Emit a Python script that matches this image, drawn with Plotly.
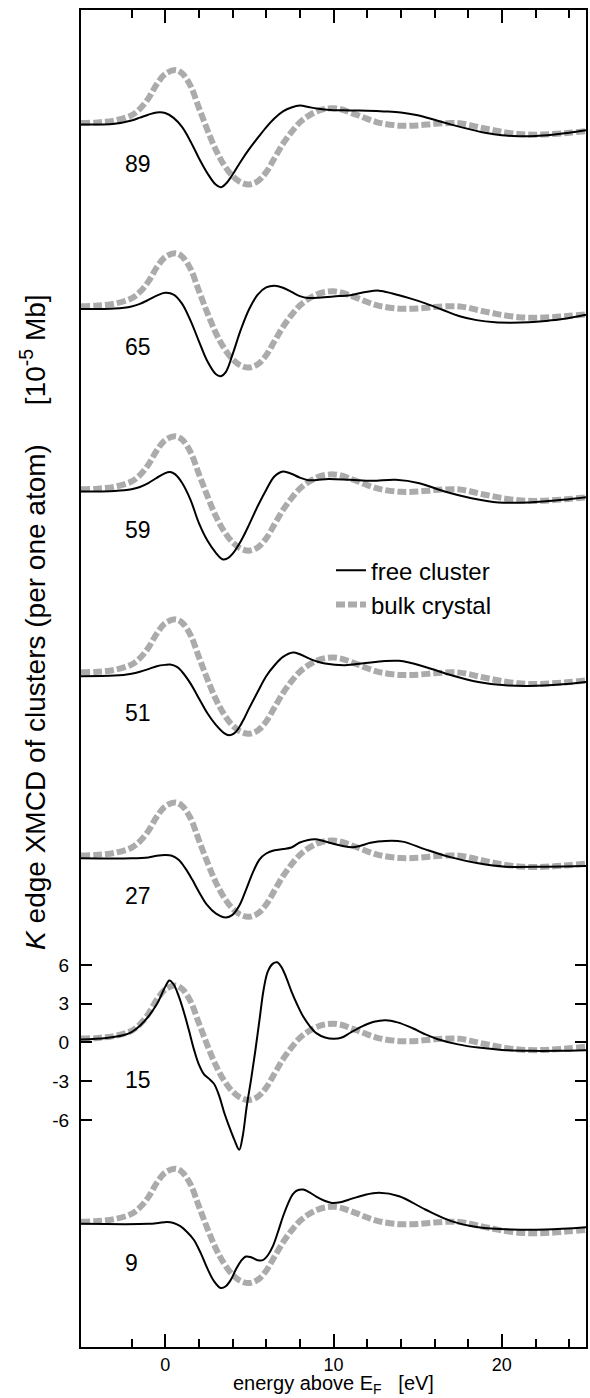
import plotly.graph_objects as go

# Cluster sizes (atoms per cluster), top to bottom
CLUSTERS = ["89", "65", "59", "51", "27", "15", "9"]

# Bulk crystal K-edge XMCD (same reference curve in every panel)
E_BULK = [-5, -4, -3, -2, -1.5, -1, -0.5, 0, 0.6, 1.0, 1.5, 2.0, 2.5, 3.0, 3.5, 4.0,
          4.5, 5.0, 5.5, 6.0, 6.5, 7.0, 7.5, 8.0, 8.5, 9.0, 9.5, 10.0, 10.5, 11.0,
          11.5, 12.0, 12.5, 13.0, 14.0, 15.0, 16.0, 17.0, 17.5, 18.0, 18.5, 19.0,
          19.5, 20.0, 21.0, 22.0, 23.0, 24.0, 25.0]
XMCD_BULK = [0.3, 0.35, 0.5, 0.9, 1.4, 2.2, 3.3, 4.1, 4.4, 4.15, 3.2, 1.5, -0.2, -1.75,
             -2.95, -3.8, -4.3, -4.45, -4.2, -3.5, -2.4, -1.3, -0.4, 0.35, 0.85, 1.2,
             1.4, 1.45, 1.35, 1.12, 0.88, 0.62, 0.4, 0.25, 0.1, 0.12, 0.24, 0.3, 0.28,
             0.18, 0.02, -0.12, -0.25, -0.38, -0.55, -0.6, -0.55, -0.45, -0.33]

# Free cluster K-edge XMCD, per cluster size
E_89 = [-5, -3, -2, -1.5, -1, -0.5, 0, 0.5, 1, 1.5, 2, 2.5, 3, 3.3, 3.6, 4, 4.5, 5,
        5.5, 6, 6.5, 7, 7.5, 8, 8.5, 9, 10, 11, 12, 13, 14, 15, 16, 17, 18, 19, 20,
        21, 22, 23, 24, 25]
XMCD_89 = [0.18, 0.25, 0.5, 0.72, 0.95, 1.12, 1.08, 0.7, 0.0, -1.1, -2.4, -3.56, -4.46,
           -4.67, -4.4, -3.7, -2.65, -1.7, -0.85, -0.03, 0.67, 1.2, 1.5, 1.65, 1.55,
           1.42, 1.3, 1.28, 1.25, 1.2, 1.12, 0.9, 0.55, 0.18, -0.15, -0.45, -0.65,
           -0.72, -0.7, -0.6, -0.45, -0.26]

E_65 = [-5, -3, -2, -1.5, -1, -0.5, 0, 0.5, 1, 1.5, 2, 2.5, 3, 3.3, 3.6, 4, 4.5, 5,
        5.5, 6, 6.5, 7, 7.5, 8, 8.5, 9, 10, 11, 12, 12.7, 13.5, 14.5, 15.5, 16.5,
        17.5, 18.5, 19.6, 20.5, 21.6, 22.6, 23.6, 25]
XMCD_65 = [0.08, 0.12, 0.28, 0.48, 0.78, 1.12, 1.33, 1.2, 0.5, -0.8, -2.4, -3.95,
           -4.95, -5.12, -4.8, -3.45, -1.5, 0.1, 1.2, 1.75, 1.88, 1.72, 1.4, 1.08,
           0.93, 0.95, 1.05, 1.15, 1.42, 1.5, 1.28, 0.92, 0.5, 0.0, -0.48, -0.78,
           -0.95, -0.98, -0.95, -0.85, -0.7, -0.36]

E_59 = [-5, -3, -2, -1.5, -1, -0.5, 0, 0.3, 0.6, 1, 1.5, 2, 2.5, 3, 3.4, 3.7, 4, 4.5,
        5, 5.5, 6, 6.5, 7, 7.5, 8, 8.5, 9, 9.7, 11, 12.3, 13.7, 15.1, 16.6, 18.2,
        19.8, 21.6, 23.6, 25]
XMCD_59 = [0.13, 0.17, 0.3, 0.48, 0.78, 1.18, 1.55, 1.63, 1.45, 0.8, -0.5, -2.3,
           -3.65, -4.6, -5.12, -5.05, -4.7, -3.7, -2.4, -1.0, 0.25, 1.3, 1.68, 1.5,
           1.2, 1.0, 1.02, 1.1, 1.03, 0.95, 1.03, 0.77, 0.13, -0.39, -0.72, -0.72,
           -0.52, -0.31]

E_51 = [-5, -3, -2, -1.5, -1, -0.5, 0, 0.3, 0.7, 1, 1.5, 2, 2.5, 3, 3.5, 3.8, 4.1,
        4.4, 4.7, 5, 5.5, 6, 6.5, 7, 7.6, 8, 8.5, 9, 9.5, 10.7, 11.9, 13.9, 15.45,
        17, 18.6, 20.2, 21.6, 23.6, 25]
XMCD_51 = [0.0, 0.05, 0.2, 0.35, 0.55, 0.78, 0.88, 0.9, 0.72, 0.35, -0.55, -1.7,
           -2.85, -3.75, -4.4, -4.57, -4.42, -3.95, -3.25, -2.45, -1.2, 0.0, 0.85,
           1.5, 1.83, 1.7, 1.4, 1.15, 0.98, 0.85, 1.03, 1.19, 0.72, 0.08, -0.44,
           -0.7, -0.75, -0.62, -0.44]

E_27 = [-5, -2, -1, -0.5, 0, 0.4, 0.8, 1.2, 1.6, 2, 2.5, 3, 3.6, 4, 4.4, 4.8, 5.2,
        5.6, 6, 6.5, 7, 7.5, 8, 8.5, 8.9, 9.4, 9.9, 10.5, 11.1, 11.6, 12.2, 13.1,
        14.1, 15.45, 17, 18.6, 20.2, 22.6, 25]
XMCD_27 = [0.08, 0.08, 0.15, 0.27, 0.33, 0.28, -0.03, -0.7, -1.55, -2.5, -3.55, -4.18,
           -4.5, -4.3, -3.6, -2.37, -1.05, -0.02, 0.45, 0.7, 0.8, 0.92, 1.3, 1.5, 1.55,
           1.42, 1.24, 1.05, 0.93, 1.05, 1.28, 1.42, 1.37, 0.77, 0.15, -0.31, -0.57,
           -0.57, -0.52]

E_15 = [-5, -3.5, -2.5, -2, -1.5, -1, -0.5, 0, 0.25, 0.5, 0.8, 1.1, 1.4, 1.7, 2.0,
        2.3, 2.6, 2.9, 3.2, 3.5, 3.8, 4.1, 4.4, 4.6, 4.85, 5.1, 5.35, 5.6, 5.85, 6.1,
        6.4, 6.65, 6.9, 7.2, 7.5, 7.8, 8.2, 8.6, 9.0, 9.5, 10.0, 10.5, 11.0, 11.7,
        12.4, 13.1, 13.8, 14.7, 15.5, 16.2, 17.4, 18.6, 20.0, 21.6, 23.3, 25]
XMCD_15 = [0.22, 0.35, 0.55, 0.8, 1.3, 2.0, 2.95, 4.3, 4.8, 4.5, 3.6, 2.4, 1.0, -0.5,
           -1.7, -2.45, -2.8, -3.2, -4.1, -5.4, -6.5, -7.5, -8.3, -7.3, -4.9, -2.9,
           -0.7, 1.7, 4.1, 5.5, 6.1, 6.2, 5.85, 5.0, 3.95, 3.05, 2.0, 1.25, 0.7, 0.38,
           0.28, 0.38, 0.75, 1.25, 1.6, 1.72, 1.55, 1.1, 0.6, 0.25, -0.15, -0.4,
           -0.58, -0.65, -0.65, -0.6]

E_9 = [-5, -1, -0.4, 0.1, 0.5, 0.9, 1.3, 1.7, 2.1, 2.5, 2.9, 3.3, 3.6, 3.9, 4.2, 4.5,
       4.8, 5.1, 5.5, 5.8, 6.1, 6.4, 6.7, 7.0, 7.3, 7.6, 7.9, 8.2, 8.6, 9.0, 9.5, 9.9,
       10.4, 10.9, 11.8, 12.7, 13.9, 15.45, 17, 18.6, 20.6, 22.6, 25]
XMCD_9 = [0.13, 0.13, 0.2, 0.28, 0.2, -0.05, -0.5, -1.1, -2.1, -3.3, -4.3, -4.83,
          -4.7, -4.2, -3.4, -2.75, -2.4, -2.45, -2.68, -2.68, -2.3, -1.6, -0.5, 0.7,
          1.7, 2.45, 2.75, 2.78, 2.55, 2.22, 1.9, 1.75, 1.8, 2.0, 2.35, 2.53, 2.27,
          1.24, 0.34, -0.13, -0.31, -0.31, -0.13]

FREE = {
    "89": (E_89, XMCD_89),
    "65": (E_65, XMCD_65),
    "59": (E_59, XMCD_59),
    "51": (E_51, XMCD_51),
    "27": (E_27, XMCD_27),
    "15": (E_15, XMCD_15),
    "9": (E_9, XMCD_9),
}

# Vertical stacking: the "15" panel sits on the true zero of the left scale
STEP = 14.17
ZERO_INDEX = CLUSTERS.index("15")
offsets = {c: (ZERO_INDEX - i) * STEP for i, c in enumerate(CLUSTERS)}

FONT = "Liberation Sans, Arial, Helvetica, sans-serif"
fig = go.Figure()

# Bulk curves first so the free-cluster lines sit on top
for i, c in enumerate(CLUSTERS):
    off = offsets[c]
    fig.add_trace(go.Scatter(
        x=E_BULK, y=[v + off for v in XMCD_BULK], mode="lines",
        line=dict(color="#ababab", width=6, dash="9px,3px", shape="spline", smoothing=1.0),
        name="bulk crystal", legendgroup="bulk", legendrank=2,
        showlegend=(i == 0), hoverinfo="skip"))

for i, c in enumerate(CLUSTERS):
    off = offsets[c]
    e, v = FREE[c]
    fig.add_trace(go.Scatter(
        x=e, y=[val + off for val in v], mode="lines",
        line=dict(color="black", width=2, shape="spline", smoothing=1.0),
        name="free cluster", legendgroup="free", legendrank=1,
        showlegend=(i == 0), hoverinfo="skip"))

# Cluster-size labels under each baseline
for c in CLUSTERS:
    fig.add_annotation(x=-2.53, y=offsets[c] - 2.87, text=c, showarrow=False,
                       xanchor="left", yanchor="middle",
                       font=dict(size=23, family=FONT, color="black"))

# Rotated y-axis label
fig.add_annotation(
    xref="paper", yref="paper", x=-0.094, y=0.542, textangle=-90,
    text="<i>K</i> edge XMCD of clusters (per one atom)\u00a0\u00a0\u00a0\u00a0\u00a0[10<sup>-5</sup> Mb]",
    showarrow=False, xanchor="center", yanchor="middle",
    font=dict(size=28, family=FONT, color="black"))

# x-axis label along the bottom edge
fig.add_annotation(
    xref="paper", yref="paper", x=0.5, y=-51 / 1337, yshift=-1,
    text="energy above E<sub>F</sub>\u00a0\u00a0\u00a0[eV]",
    showarrow=False, xanchor="center", yanchor="bottom",
    font=dict(size=20, family=FONT, color="black"))

y_range = [-23.57, 79.9]
fig.update_layout(
    width=590, height=1398,
    margin=dict(l=81, r=2, t=10, b=51),
    paper_bgcolor="white", plot_bgcolor="white",
    font=dict(family=FONT, color="black"),
    showlegend=True,
    legend=dict(x=0.495, y=0.5975, xanchor="left", yanchor="top",
                font=dict(size=24, family=FONT, color="black"),
                bgcolor="rgba(0,0,0,0)", borderwidth=0, tracegroupgap=0),
    xaxis=dict(
        range=[-5, 25], tickvals=[0, 10, 20], ticks="inside", ticklen=13, tickwidth=1.5,
        tickcolor="black", showline=True, linewidth=2, linecolor="black", mirror="ticks",
        showgrid=False, zeroline=False, ticklabelstandoff=0,
        tickfont=dict(size=18, family=FONT, color="black"),
        minor=dict(tickvals=[-2, 2, 4, 6, 8, 12, 14, 16, 18, 22, 24], ticks="inside",
                   ticklen=8, tickwidth=1.5, tickcolor="black", showgrid=False)),
    yaxis=dict(
        range=y_range, tickvals=[6, 3, 0, -3, -6], ticktext=["6", "3", "0", "-3", "-6"],
        ticks="inside", ticklen=11, tickwidth=1.5, tickcolor="black", showline=True,
        linewidth=2, linecolor="black", mirror="ticks", showgrid=False, zeroline=False,
        ticklabelstandoff=6, tickfont=dict(size=19, family=FONT, color="black")),
    yaxis2=dict(
        range=y_range, overlaying="y", side="right", anchor="x",
        tickvals=[offsets[c] for c in CLUSTERS], ticks="inside", ticklen=10,
        tickwidth=1.5, tickcolor="black", showticklabels=False, showgrid=False,
        zeroline=False, showline=False),
)

fig.write_html("out.html")
